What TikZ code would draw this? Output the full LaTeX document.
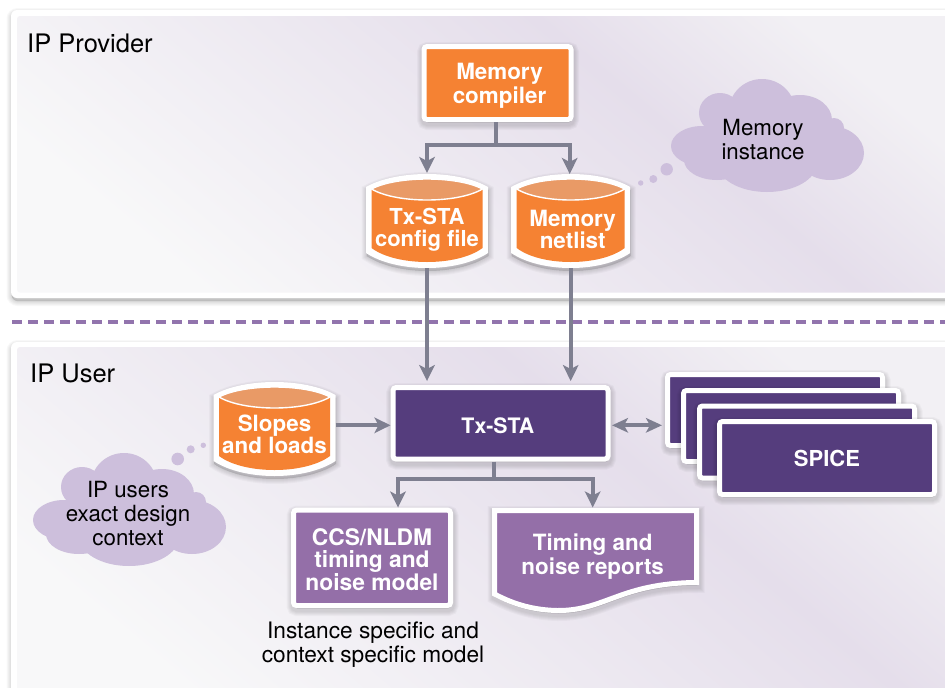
\documentclass[tikz,border=0pt]{standalone}
\usepackage{fontspec}
\setmainfont{TeX Gyre Heros}
\usetikzlibrary{arrows.meta}
\definecolor{orangeF}{HTML}{F58233}
\definecolor{orangeL}{HTML}{E99A66}
\definecolor{darkP}{HTML}{553D7D}
\definecolor{midP}{HTML}{946FA8}
\definecolor{cloudF}{HTML}{CDBFDC}
\definecolor{dashP}{HTML}{9274AD}
\definecolor{arrowG}{HTML}{7E7F90}
\definecolor{panelL}{HTML}{F8F8F9}
\definecolor{panelM}{HTML}{E5DEEB}
\definecolor{panelR}{HTML}{F2F0F4}
\pgfdeclarehorizontalshading{panelshade}{100bp}{color(0bp)=(panelL); color(25bp)=(panelL); color(61bp)=(panelM); color(75bp)=(panelR); color(100bp)=(panelR)}
\tikzset{
  shadowlayer/.style={preaction={draw=black,draw opacity=.028,fill=black,fill opacity=.028,line width=#1,transform canvas={yshift=-3pt,xshift=.5pt}}},
  softshadow/.style={shadowlayer=10pt,shadowlayer=8pt,shadowlayer=6pt,shadowlayer=4pt,shadowlayer=2pt},
  nodeshadow/.style={shadowlayer=15pt,shadowlayer=13pt,shadowlayer=11pt,shadowlayer=9pt,shadowlayer=7pt},
  box/.style={draw=white,line width=5pt,rounded corners=3pt,nodeshadow,inner sep=0pt,text=white,align=center,
    font=\fontsize{22}{22.5}\selectfont\bfseries},
  orangebox/.style={box,fill=orangeF},
  darkbox/.style={box,fill=darkP},
  midbox/.style={box,fill=midP},
  boldtext/.style={inner sep=0pt,text=white,align=center,font=\fontsize{22.4}{22.5}\selectfont\bfseries},
  plaintext/.style={inner sep=0pt,text=black,align=center,font=\fontsize{22.3}{24}\selectfont},
  paneltitle/.style={inner sep=0pt,text=black,anchor=base west,font=\fontsize{25.5}{28}\selectfont},
  ghost/.style={inner sep=0pt,outer sep=0pt},
  conn/.style={draw=arrowG,line width=4pt},
  arrowc/.style={conn,-{Stealth[length=16pt,width=15.5pt,inset=4pt]}},
  dblarrow/.style={conn,{Stealth[length=16pt,width=14.5pt,inset=4pt]}-{Stealth[length=16pt,width=14.5pt,inset=4pt]}},
  panelfill/.style={shading=panelshade,shading angle=50,rounded corners=3pt},
}
\newcommand{\cylshape}[6][]{%
  \begin{scope}[shift={(#3,#4)}]
    \path[fill=white,softshadow] ({-(#5)-5.5},13) .. controls ({-(#5)*0.55},-4.33) and ({(#5)*0.55},-4.33) .. ({(#5)+5.5},13)
      -- ({(#5)+5.5},79) .. controls ({(#5)*0.55},99) and ({-(#5)*0.55},99) .. ({-(#5)-5.5},79) -- cycle;
    \path[fill=orangeF] ({-(#5)},15) .. controls ({-(#5)*0.55},1.67) and ({(#5)*0.55},1.67) .. ({(#5)},15)
      -- ({(#5)},74) .. controls ({(#5)*0.55},92.67) and ({-(#5)*0.55},92.67) .. ({-(#5)},74) -- cycle;
    \path[fill=orangeL,draw=white,line width=1.4pt] ({-(#5)},15) .. controls ({-(#5)*0.55},1.67) and ({(#5)*0.55},1.67) .. ({(#5)},15)
      .. controls ({(#5)*0.55},29.67) and ({-(#5)*0.55},29.67) .. ({-(#5)},15) -- cycle;
  \end{scope}
  \node[ghost,minimum width={2*(#5)+11},minimum height=94pt] (#2) at (#3,{(#4)+47}) {};
  \node[boldtext,#1] (#2text) at (#3,{(#4)+54.5}) {#6};
}
\newcommand{\cloudshape}[2]{%
  \begin{scope}[shift={(#1,#2)}]
    \fill[cloudF] (91,32) ellipse [x radius=33,y radius=32];
    \fill[cloudF] (49,34) ellipse [x radius=21,y radius=20];
    \fill[cloudF] (129,41) ellipse [x radius=32,y radius=25];
    \fill[cloudF] (163,49) ellipse [x radius=10,y radius=10];
    \fill[cloudF] (159,74) ellipse [x radius=34,y radius=27];
    \fill[cloudF] (31,67) ellipse [x radius=31,y radius=20];
    \fill[cloudF] (46,81) ellipse [x radius=33,y radius=20];
    \fill[cloudF] (96,84) ellipse [x radius=50,y radius=29];
    \fill[cloudF] (95,60) ellipse [x radius=62,y radius=32];
  \end{scope}
}
\begin{document}
\begin{tikzpicture}[x=1pt,y=-1pt]
\useasboundingbox (0,0) rectangle (945,688);
\clip (0,0) rectangle (945,688);
\fill[white] (0,0) rectangle (945,688);
% panels
\path[fill=white,rounded corners=6pt,softshadow] (11,10) rectangle (980,298);
\path[panelfill] (17,16) rectangle (980,292.5);
\path[fill=white,rounded corners=6pt,softshadow] (11,342) rectangle (980,720);
\path[panelfill] (17,347) rectangle (980,720);
\draw[dashP,line width=4pt,dash pattern=on 10pt off 6pt] (12,321.7) -- (945,321.7);
\node[paneltitle] (provider) at (27,52) {IP Provider};
\node[paneltitle] (user) at (30,382) {IP User};
% clouds
\cloudshape{671}{79}
\node[plaintext] (cloudA) at (763,140) {Memory\\instance};
\fill[cloudF] (666.7,169.3) circle [radius=6.2];
\fill[cloudF] (653.3,179) circle [radius=4];
\fill[cloudF] (640.7,183) circle [radius=2.7];
\cloudshape{33}{453}
\node[plaintext] (cloudB) at (128,514) {IP users\\exact design\\context};
\fill[cloudF] (177.7,459) circle [radius=6.3];
\fill[cloudF] (190.7,449.3) circle [radius=4];
\fill[cloudF] (203.3,445.3) circle [radius=2.7];
% boxes
\node[orangebox,minimum width=147pt,minimum height=73pt] (compiler) at (497.5,83) {};
\node[boldtext] (compilertext) at (499.5,86) {Memory\\[1pt]compiler};
\cylshape[yshift=-1.5pt,font=\fontsize{22}{22}\selectfont\bfseries]{config}{427}{174}{55.5}{Tx-STA\\config file}
\cylshape[xshift=2pt,yshift=-1pt]{netlist}{570.7}{174}{54}{Memory\\netlist}
\cylshape[yshift=2pt]{slopes}{274.5}{382}{55.5}{Slopes\\and loads}
\node[darkbox,minimum width=215pt,minimum height=71.5pt] (txsta) at (500.5,423.3) {};
\node[boldtext,font=\fontsize{21.3}{22}\selectfont\bfseries] (txstatext) at (497.8,425.5) {Tx-STA};
\node[darkbox,minimum width=215pt,minimum height=71pt] (spiceA) at (775,410) {};
\node[darkbox,minimum width=215pt,minimum height=71pt] (spiceB) at (791,426) {};
\node[darkbox,minimum width=215pt,minimum height=72pt] (spiceC) at (807,442) {};
\node[darkbox,minimum width=215pt,minimum height=73pt] (spiceD) at (827,458) {SPICE};
\node[midbox,minimum width=157pt,minimum height=95.5pt] (ccs) at (372,557.8) {};
\node[boldtext,font=\fontsize{22.8}{22.5}\selectfont\bfseries] (ccstext) at (372,559.3) {CCS/NLDM\\timing and\\noise model};
\path[fill=midP,draw=white,line width=5pt,nodeshadow,line join=miter] (494.5,510.5) -- (696.5,510.5) -- (696.5,582.5)
  .. controls (620,583) and (605,611) .. (557,610.5) .. controls (535,610) and (515,605) .. (494.5,594) -- cycle;
\node[ghost,minimum width=207pt,minimum height=105pt] (report) at (595.5,560) {};
\node[boldtext,font=\fontsize{22.4}{24}\selectfont\bfseries] (reporttext) at (592.7,557) {Timing and\\noise reports};
\node[plaintext,font=\fontsize{22.7}{24}\selectfont] (caption) at (373,645) {Instance specific and\\context specific model};
% connectors
\coordinate (splitA) at (496.3,145);
\coordinate (splitB) at (493.5,479);
\draw[conn] (compiler.south -| splitA) -- (splitA);
\draw[arrowc] (splitA) -| ([yshift=1pt]config.north);
\draw[arrowc] (splitA) -| ([xshift=-1pt]netlist.north);
\draw[arrowc,shorten >=4pt] (config.south) -- (config.south |- txsta.north);
\draw[arrowc,shorten >=4pt] (netlist.south) -- (netlist.south |- txsta.north);
\draw[arrowc] ([yshift=-2pt]txsta.west -| slopes.east) -- ([yshift=-2pt]txsta.west);
\draw[dblarrow,shorten >=3pt,shorten <=1.5pt] ([yshift=-2pt]txsta.east) -- ([yshift=-2pt]txsta.east -| spiceA.west);
\draw[conn] (txsta.south -| splitB) -- (splitB);
\draw[arrowc] (splitB) -| ([xshift=26pt]ccs.north);
\draw[arrowc] (splitB) -| ([xshift=-2.8pt]report.north);
\end{tikzpicture}
\end{document}
